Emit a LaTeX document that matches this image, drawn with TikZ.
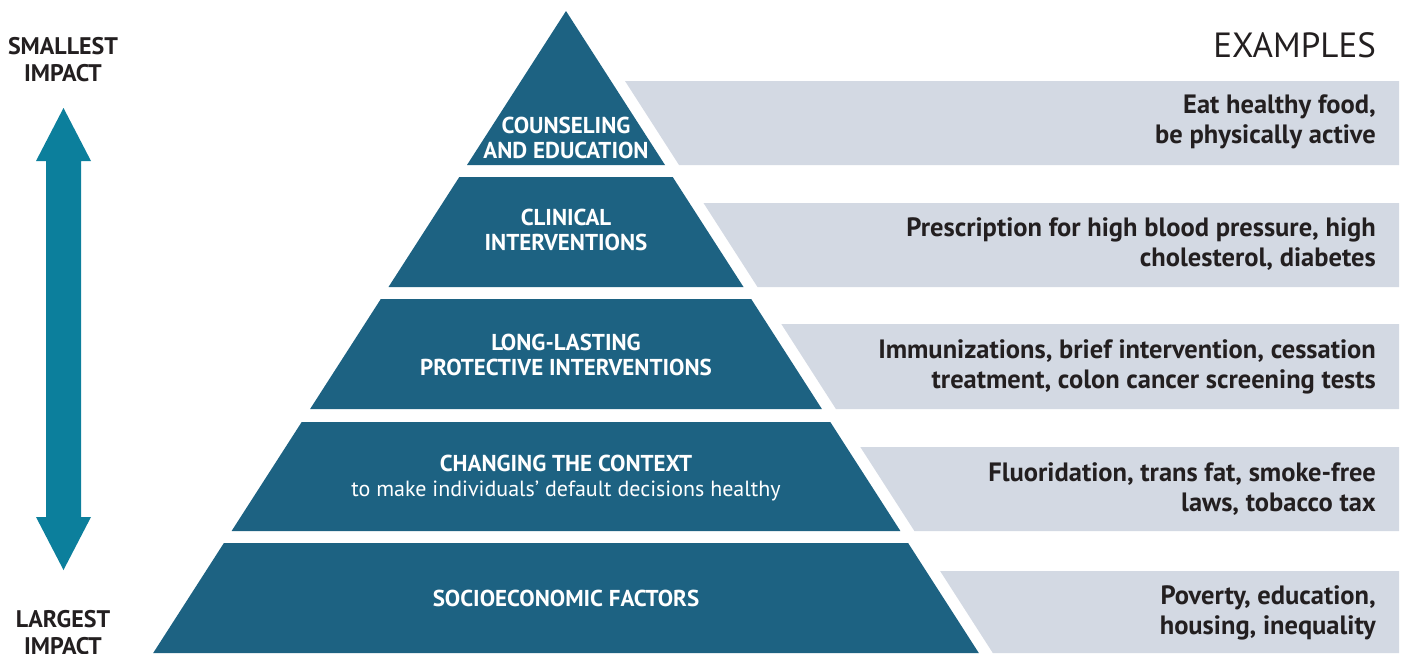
\documentclass[tikz,border=0pt]{standalone}
\usepackage{fontspec}
\setmainfont{PT Sans}
\definecolor{pyr}{RGB}{29,98,130}
\definecolor{arr}{RGB}{12,127,156}
\definecolor{band}{RGB}{211,217,227}
\definecolor{ink}{RGB}{35,31,32}
\begin{document}
\begin{tikzpicture}[x=1pt,y=-1pt,
  layer/.style={fill=pyr},
  bandbox/.style={fill=band},
  pyrtext/.style={text=white,font=\fontsize{23}{25}\selectfont\bfseries,align=center,inner sep=0pt},
  extext/.style={text=ink,font=\fontsize{26.5}{30}\selectfont\bfseries,align=right,anchor=east,inner sep=0pt},
  sidetext/.style={text=ink,font=\fontsize{24}{27}\selectfont\bfseries,align=center,inner sep=0pt}]
\useasboundingbox (0,0) rectangle (1404,653);
\begin{scope}
\clip (0,0) rectangle (1404,653);
% pyramid layers
\fill[layer] (566,11) -- (665,165) -- (467,165) -- cycle;
\fill[layer] (459.3,177) -- (672.7,177) -- (743.5,287) -- (388.5,287) -- cycle;
\fill[layer] (380.8,299) -- (751.2,299) -- (821.9,409) -- (310.1,409) -- cycle;
\fill[layer] (301.7,422) -- (830.3,422) -- (900.4,531) -- (231.6,531) -- cycle;
\fill[layer] (223.9,543) -- (908.1,543) -- (978.8,653) -- (153.2,653) -- cycle;
% example bands
\fill[bandbox] (625,81) -- (1399,81) -- (1399,165) -- (679,165) -- cycle;
\fill[bandbox] (703.5,203) -- (1399,203) -- (1399,287) -- (757.5,287) -- cycle;
\fill[bandbox] (781.3,324) -- (1399,324) -- (1399,409) -- (835.9,409) -- cycle;
\fill[bandbox] (860.3,447) -- (1399,447) -- (1399,531) -- (914.4,531) -- cycle;
\fill[bandbox] (940.1,571) -- (1399,571) -- (1399,653) -- (992.8,653) -- cycle;
% double arrow
\fill[arr] (63.5,108) -- (91,161) -- (81,161) -- (81,517) -- (91,517) -- (63.5,570)
  -- (36,517) -- (46,517) -- (46,161) -- (36,161) -- cycle;
\end{scope}
% pyramid labels
\node[pyrtext] (l1) at (566,137.5) {COUNSELING\\AND EDUCATION};
\node[pyrtext] (l2) at (566,229.5) {CLINICAL\\INTERVENTIONS};
\node[pyrtext] (l3) at (566,354.5) {LONG-LASTING\\PROTECTIVE INTERVENTIONS};
\node[pyrtext] (l4) at (566,478.5) {CHANGING THE CONTEXT\\{\fontsize{22}{25}\selectfont\mdseries to make individuals’ default decisions healthy}};
\node[pyrtext] (l5) at (566,598) {SOCIOECONOMIC FACTORS};
% examples
\node[text=ink,font=\fontsize{35}{40}\selectfont,anchor=east,inner sep=0pt] (ex) at (1376,45) {EXAMPLES};
\node[extext] (e1) at (1376,122) {Eat healthy food,\\be physically active};
\node[extext] (e2) at (1376,244) {Prescription for high blood pressure, high\\cholesterol, diabetes};
\node[extext] (e3) at (1376,367) {Immunizations, brief intervention, cessation\\treatment, colon cancer screening tests};
\node[extext] (e4) at (1376,489) {Fluoridation, trans fat, smoke-free\\laws, tobacco tax};
\node[extext] (e5) at (1376,613) {Poverty, education,\\housing, inequality};
% side labels
\node[sidetext] (top) at (63,59.5) {SMALLEST\\IMPACT};
\node[sidetext] (bot) at (63,633) {LARGEST\\IMPACT};
\end{tikzpicture}
\end{document}
